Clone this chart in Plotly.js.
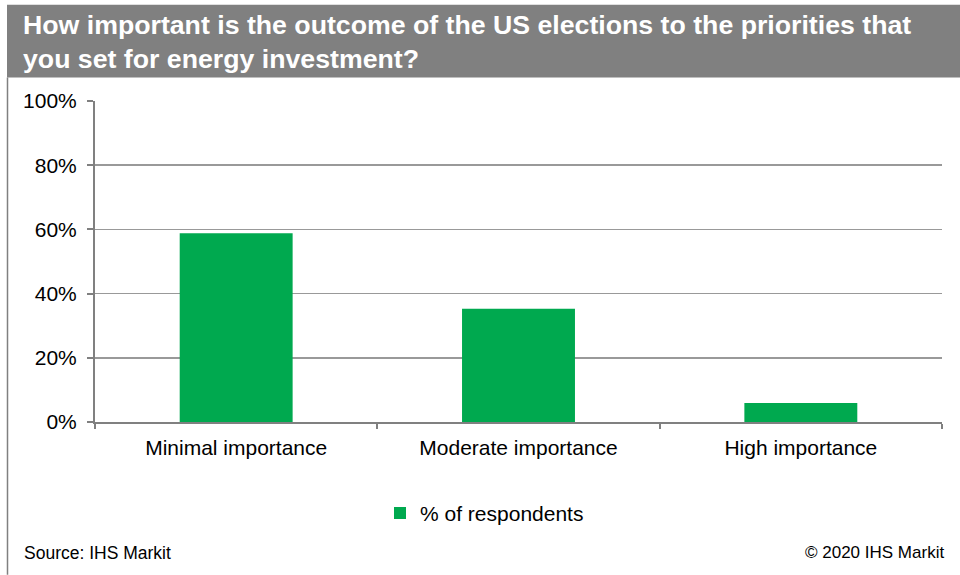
<!DOCTYPE html>
<html>
<head>
<meta charset="utf-8">
<script src="https://cdn.plot.ly/plotly-3.0.1.min.js"></script>
<style>html,body{margin:0;padding:0;background:#fff;}#chart{width:960px;height:575px;}</style>
</head>
<body>
<div id="chart"></div>
<script>
// Data
const categories = ["Minimal importance", "Moderate importance", "High importance"];
const respondentShare = [0.588, 0.353, 0.059];
const seriesName = "% of respondents";
const titleLines = ["How important is the outcome of the US elections to the priorities that", "you set for energy investment?"];
const sourceText = "Source: IHS Markit";
const copyrightText = "© 2020 IHS Markit";

const W = 960, H = 575;
const M = {l: 95, r: 18, t: 100.5, b: 153};
const pw = W - M.l - M.r, ph = H - M.t - M.b;
const px = v => (v - M.l) / pw;
const py = v => (H - M.b - v) / ph;
const FONT = "Liberation Sans, Arial, sans-serif";

const trace = {
  type: 'bar',
  x: categories,
  y: respondentShare,
  name: seriesName,
  marker: {color: '#00A94F', line: {width: 0}},
  width: 0.4,
  showlegend: true,
  hoverinfo: 'skip'
};

const layout = {
  width: W, height: H,
  margin: M,
  paper_bgcolor: '#fff', plot_bgcolor: '#fff',
  font: {family: FONT, color: '#000', size: 21},
  showlegend: true,
  legend: {orientation: 'h', x: px(380), xanchor: 'left', y: py(513.5), yanchor: 'middle',
           font: {size: 21, family: FONT, color: '#000'}, bgcolor: 'rgba(0,0,0,0)', itemwidth: 30},
  xaxis: {
    type: 'category', showgrid: false, showline: true, linecolor: '#808080', linewidth: 2,
    ticks: 'outside', tickson: 'boundaries', ticklen: 5, tickcolor: '#808080', tickwidth: 2,
    tickfont: {size: 21, family: FONT, color: '#000'}, ticklabelstandoff: 6, fixedrange: true
  },
  yaxis: {
    range: [0, 1], dtick: 0.2, tickformat: '.0%', showgrid: true, gridcolor: '#999999', gridwidth: 1.5,
    showline: true, linecolor: '#808080', linewidth: 2, ticks: 'outside', ticklen: 6,
    tickcolor: '#808080', tickwidth: 2, zeroline: false, ticklabelstandoff: 6,
    tickfont: {size: 21, family: FONT, color: '#000'}, fixedrange: true
  },
  shapes: [
    {type: 'rect', xref: 'paper', yref: 'paper', x0: px(7), x1: px(960), y0: py(4), y1: py(77),
     fillcolor: '#808080', line: {width: 0}, layer: 'below'},
    {type: 'line', xref: 'paper', yref: 'paper', x0: px(7.5), x1: px(7.5), y0: py(77), y1: py(575),
     line: {color: '#808080', width: 1.5}}
  ],
  annotations: [
    {text: '<b>' + titleLines[0] + '</b>', xref: 'paper', yref: 'paper', x: px(21), y: py(24),
     xanchor: 'left', yanchor: 'middle', showarrow: false, font: {family: FONT, size: 26.7, color: '#fff'}},
    {text: '<b>' + titleLines[1] + '</b>', xref: 'paper', yref: 'paper', x: px(21), y: py(58),
     xanchor: 'left', yanchor: 'middle', showarrow: false, font: {family: FONT, size: 26.7, color: '#fff'}},
    {text: sourceText, xref: 'paper', yref: 'paper', x: px(22), y: py(553),
     xanchor: 'left', yanchor: 'middle', showarrow: false, font: {family: FONT, size: 17.5, color: '#000'}},
    {text: copyrightText, xref: 'paper', yref: 'paper', x: px(946), y: py(553),
     xanchor: 'right', yanchor: 'middle', showarrow: false, font: {family: FONT, size: 17, color: '#000'}}
  ]
};

Plotly.newPlot('chart', [trace], layout, {displayModeBar: false, staticPlot: true});
</script>
</body>
</html>
